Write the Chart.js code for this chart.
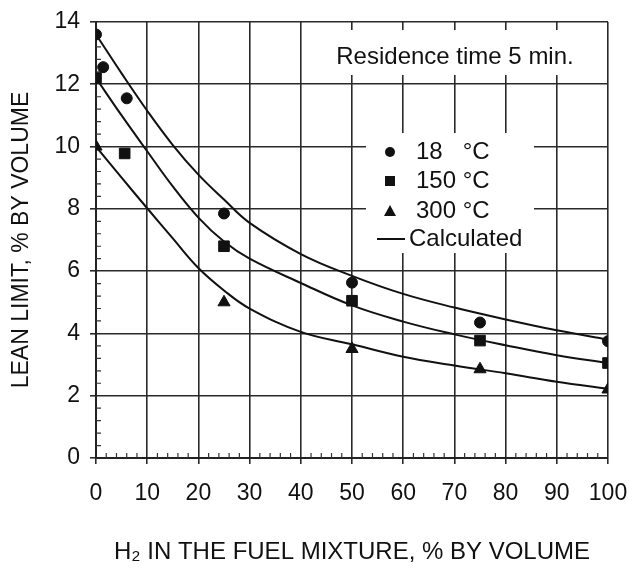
<!DOCTYPE html>
<html>
<head>
<meta charset="utf-8">
<script src="https://cdn.jsdelivr.net/npm/chart.js@4/dist/chart.umd.min.js"></script>
<style>
  html, body { margin: 0; padding: 0; background: #fff; overflow: hidden; }
  canvas { display: block; }
</style>
</head>
<body>
<canvas id="lean-limit" width="632" height="568"></canvas>
<script>
const circX = [0, 1.4, 6, 25, 50, 75, 100];
const circY = [13.6, 12.55, 11.55, 7.85, 5.63, 4.35, 3.75];
const sqX = [0, 5.6, 25, 50, 75, 100];
const sqY = [12.2, 9.78, 6.8, 5.05, 3.77, 3.05];
const triX = [0, 25, 50, 75, 100];
const triY = [10.0, 5.0, 3.5, 2.85, 2.2];

// calculated curves
const calcX = [0, 5, 10, 15, 20, 25, 30, 40, 50, 60, 70, 80, 90, 100];
const calc18 = [13.6, 12.35, 11.15, 10.05, 9.1, 8.3, 7.55, 6.55, 5.85, 5.27, 4.83, 4.45, 4.1, 3.8];
const calc150 = [12.2, 11.0, 9.85, 8.72, 7.72, 6.95, 6.4, 5.62, 4.9, 4.38, 3.97, 3.62, 3.3, 3.05];
const calc300 = [10.0, 9.0, 8.02, 7.05, 6.1, 5.38, 4.8, 4.05, 3.65, 3.25, 2.97, 2.72, 2.45, 2.22];

const legendLabels = ["18   \u00B0C", "150 \u00B0C", "300 \u00B0C", "Calculated"];
const noteText = "Residence time 5 min.";

const FONT = "'Liberation Sans', Arial, sans-serif";
const INK = "#111";

function pts(xs, ys) {
  return xs.map((x, i) => ({ x: x, y: ys[i] }));
}

function curve(data) {
  return {
    type: "line",
    data: data,
    borderColor: INK,
    borderWidth: 2,
    pointRadius: 0,
    tension: 0.4,
    fill: false,
  };
}

function marker(data, style, r) {
  return {
    type: "scatter",
    data: data,
    pointStyle: style,
    pointRadius: r,
    pointBackgroundColor: INK,
    pointBorderColor: INK,
    pointBorderWidth: 1,
  };
}

// white boxes, minor ticks, note and legend
const decor = {
  id: "decor",
  beforeDatasetsDraw(chart) {
    const ctx = chart.ctx;
    const xs = chart.scales.x, ys = chart.scales.y;
    ctx.save();
    // minor ticks
    ctx.strokeStyle = "#333";
    ctx.lineWidth = 1.2;
    ctx.beginPath();
    for (let v = 2; v < 100; v += 2) {
      if (v % 10 === 0) continue;
      const px = xs.getPixelForValue(v);
      ctx.moveTo(px, ys.bottom);
      ctx.lineTo(px, ys.bottom - 5);
    }
    for (let v = 0.4; v < 14; v += 0.4) {
      if (Math.abs(v / 2 - Math.round(v / 2)) < 0.01) continue;
      const py = ys.getPixelForValue(v);
      ctx.moveTo(xs.left, py);
      ctx.lineTo(xs.left + 5, py);
    }
    ctx.stroke();

    // note box
    ctx.fillStyle = "#fff";
    ctx.fillRect(310, 30, 290, 45);
    ctx.fillStyle = INK;
    ctx.font = "24px " + FONT;
    ctx.textAlign = "center";
    ctx.textBaseline = "middle";
    ctx.fillText(noteText, 455, 57);

    // legend box
    ctx.fillStyle = "#fff";
    ctx.fillRect(366, 133, 168, 120);
    ctx.fillStyle = INK;
    ctx.textAlign = "left";
    const rows = [152, 181, 211, 239];
    const mx = 390;
    ctx.beginPath();
    ctx.arc(mx, rows[0], 5, 0, Math.PI * 2);
    ctx.fill();
    ctx.fillRect(mx - 5, rows[1] - 5, 10, 10);
    ctx.beginPath();
    ctx.moveTo(mx, rows[2] - 6);
    ctx.lineTo(mx + 6, rows[2] + 5);
    ctx.lineTo(mx - 6, rows[2] + 5);
    ctx.closePath();
    ctx.fill();
    ctx.strokeStyle = INK;
    ctx.lineWidth = 2;
    ctx.beginPath();
    ctx.moveTo(377, rows[3]);
    ctx.lineTo(405, rows[3]);
    ctx.stroke();
    ctx.font = "24px " + FONT;
    ctx.fillText(legendLabels[0], 416, rows[0]);
    ctx.fillText(legendLabels[1], 416, rows[1]);
    ctx.fillText(legendLabels[2], 416, rows[2]);
    ctx.fillText(legendLabels[3], 409, rows[3]);
    ctx.restore();
  },
};

const config = {
  data: {
    datasets: [
      curve(pts(calcX, calc18)),
      curve(pts(calcX, calc150)),
      curve(pts(calcX, calc300)),
      marker(pts(circX, circY), "circle", 5.5),
      marker(pts(sqX, sqY), "rect", 7.5),
      marker(pts(triX, triY), "triangle", 7),
    ],
  },
  options: {
    responsive: false,
    animation: false,
    devicePixelRatio: 1,
    layout: { autoPadding: false, padding: { left: 0, right: 24, top: 22, bottom: 0 } },
    plugins: {
      legend: { display: false },
      tooltip: { enabled: false },
    },
    scales: {
      x: {
        type: "linear",
        min: 0,
        max: 100,
        ticks: { stepSize: 10, color: INK, padding: 16, maxRotation: 0, font: { size: 23, family: FONT } },
        grid: { color: "#2a2a2a", lineWidth: 1.6, tickLength: 6, tickColor: "#2a2a2a" },
        border: { color: "#222", width: 2 },
        title: {
          display: true,
          text: "H\u2082 IN THE FUEL MIXTURE, % BY VOLUME",
          color: INK,
          font: { size: 24, family: FONT },
          padding: { top: 0, bottom: 1 },
        },
        afterFit: (s) => { s.height = 110; s.paddingLeft = 0; s.paddingRight = 0; },
      },
      y: {
        type: "linear",
        min: 0,
        max: 14,
        ticks: { stepSize: 2, color: INK, padding: 10, font: { size: 23, family: FONT } },
        grid: { color: "#2a2a2a", lineWidth: 1.6, tickLength: 6, tickColor: "#2a2a2a" },
        border: { color: "#222", width: 2 },
        title: {
          display: true,
          text: "LEAN LIMIT, % BY VOLUME",
          color: INK,
          font: { size: 23, family: FONT },
          padding: { top: 8, bottom: 0 },
        },
        afterFit: (s) => { s.width = 96; s.paddingTop = 0; s.paddingBottom = 0; },
      },
    },
  },
  plugins: [decor],
};

window.addEventListener("load", function () {
  const ctx = document.getElementById("lean-limit");
  new Chart(ctx, config);
});
</script>
</body>
</html>
